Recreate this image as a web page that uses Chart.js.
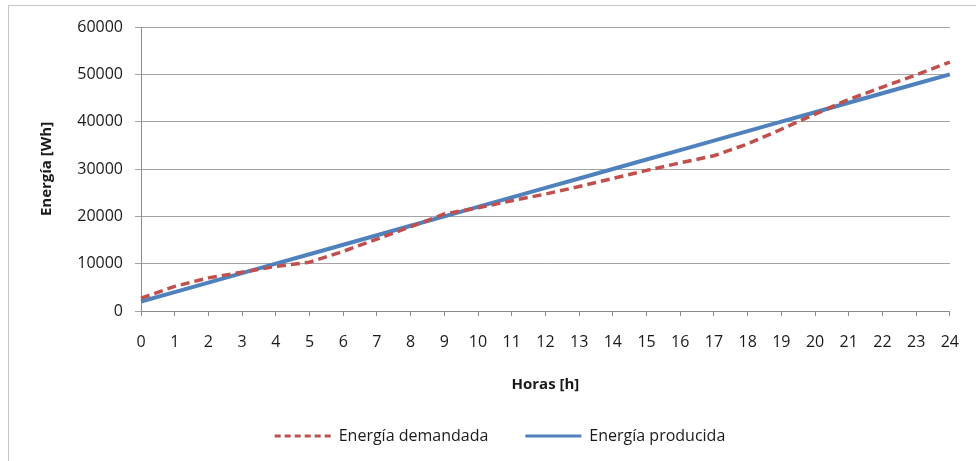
<!DOCTYPE html>
<html>
<head>
<meta charset="utf-8">
<script src="https://cdn.jsdelivr.net/npm/chart.js@4/dist/chart.umd.min.js"></script>
<style>
  html, body { margin: 0; padding: 0; background: #ffffff; }
  #wrap { position: relative; width: 976px; height: 461px; overflow: hidden; }
  #frame { position: absolute; left: 8px; top: 5px; width: 1000px; height: 500px;
           border: 1px solid #c6c6c6; box-sizing: border-box; }
  canvas { position: absolute; left: 0; top: 0; }
</style>
</head>
<body>
<div id="wrap">
  <div id="frame"></div>
  <canvas id="chart" width="976" height="461"></canvas>
</div>
<script>
// Hours of the day
const hours = ['0','1','2','3','4','5','6','7','8','9','10','11','12',
               '13','14','15','16','17','18','19','20','21','22','23','24'];

// Cumulative energy demanded [Wh]
const energiaDemandada = [2700, 5200, 7000, 8200, 9400, 10300, 12600, 15200, 17800, 20500,
                          21800, 23300, 24700, 26300, 28000, 29700, 31300, 32800, 35300, 38400,
                          41600, 44700, 47300, 49900, 52600];

// Cumulative energy produced [Wh]
const energiaProducida = [2000, 4000, 6000, 8000, 10000, 12000, 14000, 16000, 18000, 20000,
                          22000, 24000, 26000, 28000, 30000, 32000, 34000, 36000, 38000, 40000,
                          42000, 44000, 46000, 48000, 50000];

// Y axis ticks
const yTicks = [0, 10000, 20000, 30000, 40000, 50000, 60000];

const FONT = '"Open Sans", "Liberation Sans", sans-serif';
const TEXT = '#1a1a1a';

// Nudges the legend row a little to the right of the canvas centre
const legendShift = {
  id: 'legendShift',
  afterLayout(chart) {
    const lg = chart.legend;
    if (lg) { lg.left += 17; lg.right += 17; }
  }
};

new Chart(document.getElementById('chart'), {
  type: 'line',
  data: {
    labels: hours,
    datasets: [
      {
        label: 'Energía demandada',
        data: energiaDemandada,
        borderColor: '#C0504D',
        backgroundColor: '#C0504D',
        borderWidth: 3.5,
        borderDash: [9, 5],
        pointRadius: 0,
        tension: 0,
        fill: false
      },
      {
        label: 'Energía producida',
        data: energiaProducida,
        borderColor: '#4F81BD',
        backgroundColor: '#4F81BD',
        borderWidth: 4,
        pointRadius: 0,
        tension: 0,
        fill: false
      }
    ]
  },
  plugins: [legendShift],
  options: {
    responsive: false,
    animation: false,
    layout: { padding: { left: 10, right: 20, top: 27, bottom: 7 } },
    plugins: {
      tooltip: { enabled: false },
      legend: {
        position: 'bottom',
        align: 'center',
        labels: {
          usePointStyle: true,
          pointStyle: 'line',
          pointStyleWidth: 56,
          boxHeight: 4,
          padding: 37,
          color: TEXT,
          font: { family: FONT, size: 16 },
          // legend samples carry each series' own stroke colour and dash
          generateLabels(chart) {
            return chart.data.datasets.map((ds, i) => ({
              text: ds.label,
              datasetIndex: i,
              fillStyle: ds.borderColor,
              strokeStyle: ds.borderColor,
              fontColor: TEXT,
              lineWidth: 3,
              lineDash: ds.borderDash ? [6, 4] : [],
              lineCap: 'butt',
              pointStyle: 'line',
              hidden: !chart.isDatasetVisible(i)
            }));
          }
        }
      }
    },
    scales: {
      x: {
        type: 'category',
        offset: false,
        grid: {
          display: true,
          drawOnChartArea: false,
          drawTicks: true,
          tickLength: 5,
          color: '#8c8c8c'
        },
        border: { display: true, color: '#8c8c8c', width: 1 },
        ticks: {
          autoSkip: false,
          maxRotation: 0,
          padding: 17,
          color: TEXT,
          font: { family: FONT, size: 16 }
        },
        title: {
          display: true,
          text: 'Horas [h]',
          color: TEXT,
          font: { family: FONT, size: 15, weight: 'bold' },
          padding: { top: 0, bottom: -3 }
        },
        afterFit: (scale) => { scale.height = 80; }
      },
      y: {
        min: 0,
        max: 60000,
        afterBuildTicks: (scale) => { scale.ticks = yTicks.map(v => ({ value: v })); },
        grid: {
          display: true,
          drawOnChartArea: true,
          drawTicks: true,
          tickLength: 6,
          color: '#a3a3a3',
          lineWidth: 1
        },
        border: { display: true, color: '#8c8c8c', width: 1 },
        ticks: {
          padding: 12,
          color: TEXT,
          font: { family: FONT, size: 16 },
          callback: (v) => String(v)
        },
        title: {
          display: true,
          text: 'Energía [Wh]',
          color: TEXT,
          font: { family: FONT, size: 15, weight: 'bold' },
          padding: { top: 28, bottom: 0 }
        },
        afterFit: (scale) => { scale.width = 131; }
      }
    }
  }
});
</script>
</body>
</html>
